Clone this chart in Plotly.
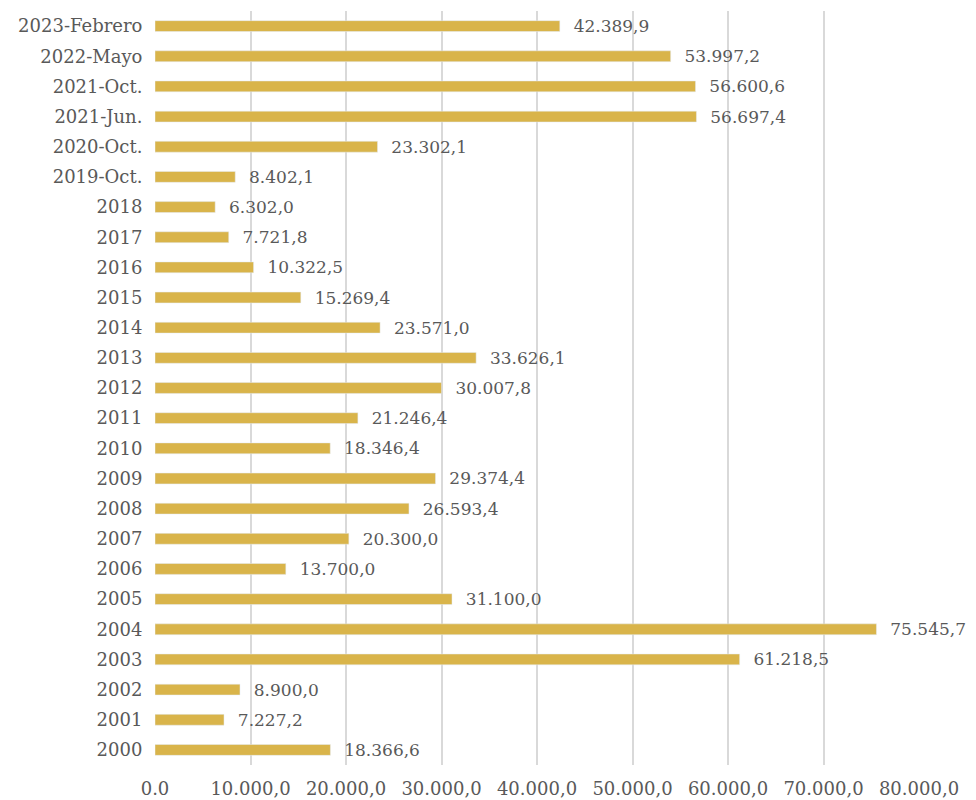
import plotly.graph_objects as go

categories = [
    "2000", "2001", "2002", "2003", "2004", "2005", "2006", "2007", "2008",
    "2009", "2010", "2011", "2012", "2013", "2014", "2015", "2016", "2017",
    "2018", "2019-Oct.", "2020-Oct.", "2021-Jun.", "2021-Oct.", "2022-Mayo",
    "2023-Febrero",
]
values = [
    18366.6, 7227.2, 8900.0, 61218.5, 75545.7, 31100.0, 13700.0, 20300.0,
    26593.4, 29374.4, 18346.4, 21246.4, 30007.8, 33626.1, 23571.0, 15269.4,
    10322.5, 7721.8, 6302.0, 8402.1, 23302.1, 56697.4, 56600.6, 53997.2,
    42389.9,
]
tick_vals = [0, 10000, 20000, 30000, 40000, 50000, 60000, 70000, 80000]
tick_text = ["0.0", "10.000,0", "20.000,0", "30.000,0", "40.000,0",
             "50.000,0", "60.000,0", "70.000,0", "80.000,0"]

TEXT = "#595959"
FONT = "DejaVu Serif"

# page body has an 8px margin, so the figure is a bit smaller than the window
fig = go.Figure(
    go.Bar(
        x=values,
        y=categories,
        orientation="h",
        marker=dict(color="#D9B44A"),
        width=0.36,
        texttemplate="\u00a0\u00a0%{x:,.1f}",
        textposition="outside",
        constraintext="none",
        textfont=dict(color=TEXT, size=17, family=FONT),
        cliponaxis=False,
    )
)
fig.update_layout(
    width=968,
    height=792,
    separators=",.",
    plot_bgcolor="white",
    paper_bgcolor="white",
    font=dict(family=FONT, size=18, color=TEXT),
    margin=dict(l=147, r=57, t=3, b=35),
    showlegend=False,
    xaxis=dict(
        range=[0, 80000],
        tickvals=tick_vals,
        ticktext=tick_text,
        showgrid=True,
        gridcolor="#D9D9D9",
        gridwidth=1.5,
        zeroline=False,
        ticks="outside",
        ticklen=7,
        tickcolor="rgba(0,0,0,0)",
        automargin=False,
    ),
    yaxis=dict(
        categoryorder="array",
        categoryarray=categories,
        showgrid=False,
        zeroline=False,
        ticks="outside",
        ticklen=8,
        tickcolor="rgba(0,0,0,0)",
        range=[-0.5, 24.5],
        automargin=False,
    ),
)
fig.write_html("out.html")
